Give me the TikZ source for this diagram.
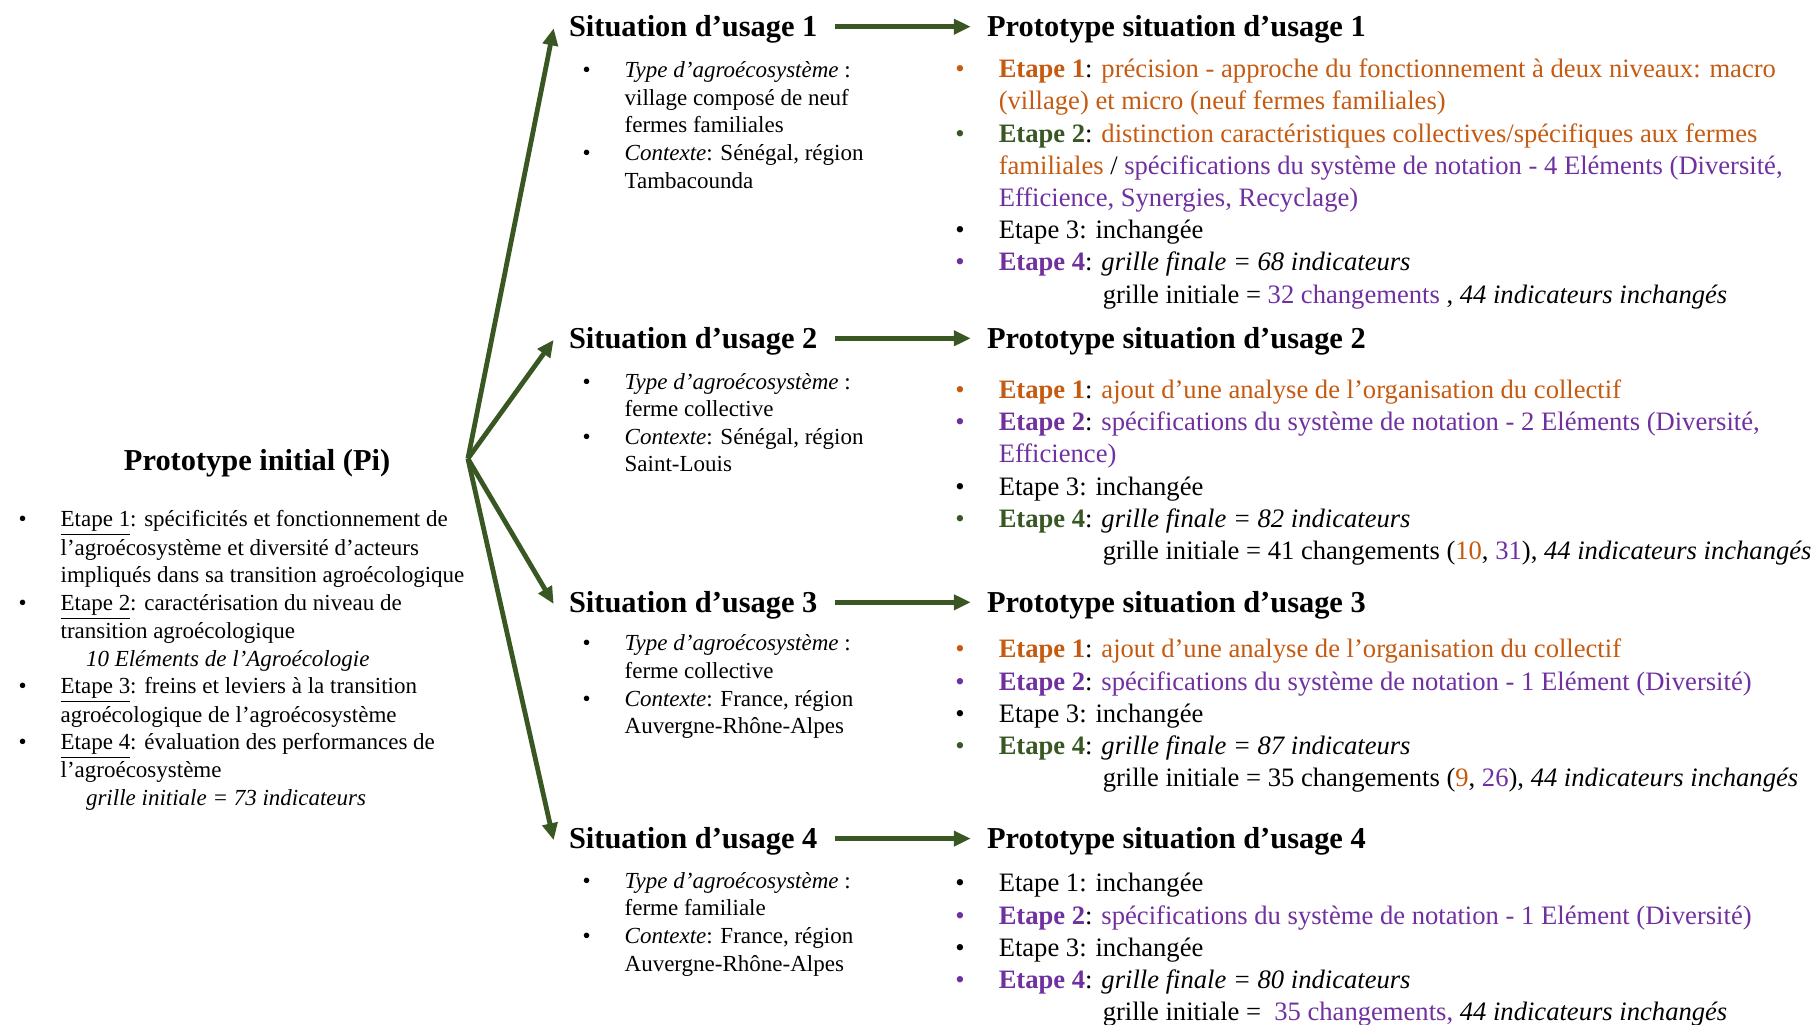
\documentclass[tikz,border=0pt]{standalone}
\usepackage{fontspec}
\setmainfont{Liberation Serif}
\usetikzlibrary{arrows.meta}

\definecolor{notegreen}{RGB}{56,87,35}
\definecolor{noteorange}{RGB}{197,90,17}
\definecolor{notepurple}{RGB}{112,48,160}

% bullet left of the line, coloured text pieces
\newcommand{\bul}[1][black]{\makebox[0pt][r]{\textcolor{#1}{\textbullet}\hspace{17pt}}}
\newcommand{\etape}[2]{\textcolor{#1}{\textbf{Etape #2}}}
\newcommand{\orng}[1]{\textcolor{noteorange}{#1}}
\newcommand{\purp}[1]{\textcolor{notepurple}{#1}}

\begin{document}
\begin{tikzpicture}[x=0.579pt, y=-0.579pt]

% Define heading, list and arrow style
\tikzstyle{head} = [inner sep=0pt, anchor=base west,
    font=\fontsize{15.2}{18}\selectfont\bfseries]
\tikzstyle{leftlist} = [inner sep=0pt, anchor=base west,
    font=\fontsize{11.5}{13.8}\selectfont]
\tikzstyle{rightlist} = [inner sep=0pt, anchor=base west,
    font=\fontsize{13.3}{16.1}\selectfont]
\tikzstyle{flow} = [draw=notegreen, line width=2.4pt,
    -{Triangle[length=8.5pt, width=7.5pt]}]

\useasboundingbox (0,0) rectangle (1568,885);

% initial prototype
\node[head, anchor=base] (pi) at (222,406) {Prototype initial (Pi)};
\node[leftlist] (pilist) at (52,455) {\begin{tabular}[t]{@{}l@{}}
\bul\underline{Etape 1}: spécificités et fonctionnement de\\
l’agroécosystème et diversité d’acteurs\\
impliqués dans sa transition agroécologique\\
\bul\underline{Etape 2}: caractérisation du niveau de\\
transition agroécologique\\
\hspace{12.7pt}\textit{10 Eléments de l’Agroécologie}\\
\bul\underline{Etape 3}: freins et leviers à la transition\\
agroécologique de l’agroécosystème\\
\bul\underline{Etape 4}: évaluation des performances de\\
l’agroécosystème\\
\hspace{12.7pt}\textit{grille initiale = 73 indicateurs}
\end{tabular}};

\coordinate (fan) at (404,396);

% situations and their prototypes
\foreach \i/\y in {1/31.7, 2/300.7, 3/528.7, 4/732.7} {
    \node[head] (sit\i) at (491,\y) {Situation d’usage \i};
    \node[head] (proto\i) at (852,\y) {Prototype situation d’usage \i};
    \draw[flow] (fan) -- ([xshift=-7.5pt,yshift=0.6pt]sit\i.west);
    \draw[flow] ([xshift=8.5pt,yshift=1.4pt]sit\i.east) -- ([xshift=-8pt,yshift=1.4pt]proto\i.west);
}

\node[leftlist] (sit1list) at (539,67) {\begin{tabular}[t]{@{}l@{}}
\bul\textit{Type d’agroécosystème} :\\
village composé de neuf\\
fermes familiales\\
\bul\textit{Contexte}: Sénégal, région\\
Tambacounda
\end{tabular}};

\node[leftlist] (sit2list) at (539,336) {\begin{tabular}[t]{@{}l@{}}
\bul\textit{Type d’agroécosystème} :\\
ferme collective\\
\bul\textit{Contexte}: Sénégal, région\\
Saint-Louis
\end{tabular}};

\node[leftlist] (sit3list) at (539,562) {\begin{tabular}[t]{@{}l@{}}
\bul\textit{Type d’agroécosystème} :\\
ferme collective\\
\bul\textit{Contexte}: France, région\\
Auvergne-Rhône-Alpes
\end{tabular}};

\node[leftlist] (sit4list) at (539,767) {\begin{tabular}[t]{@{}l@{}}
\bul\textit{Type d’agroécosystème} :\\
ferme familiale\\
\bul\textit{Contexte}: France, région\\
Auvergne-Rhône-Alpes
\end{tabular}};

\node[rightlist] (proto1list) at (862,67) {\begin{tabular}[t]{@{}l@{}}
\bul[noteorange]\etape{noteorange}{1}: \orng{précision - approche du fonctionnement à deux niveaux: macro}\\
\orng{(village) et micro (neuf fermes familiales)}\\
\bul[notegreen]\etape{notegreen}{2}: \orng{distinction caractéristiques collectives/spécifiques aux fermes}\\
\orng{familiales} / \purp{spécifications du système de notation - 4 Eléments (Diversité,}\\
\purp{Efficience, Synergies, Recyclage)}\\
\bul Etape 3: inchangée\\
\bul[notepurple]\etape{notepurple}{4}: \textit{grille finale = 68 indicateurs}\\
\hspace{52pt}grille initiale = \purp{32 changements} , \textit{44 indicateurs inchangés}
\end{tabular}};

\node[rightlist] (proto2list) at (862,344) {\begin{tabular}[t]{@{}l@{}}
\bul[noteorange]\etape{noteorange}{1}: \orng{ajout d’une analyse de l’organisation du collectif}\\
\bul[notepurple]\etape{notepurple}{2}: \purp{spécifications du système de notation - 2 Eléments (Diversité,}\\
\purp{Efficience)}\\
\bul Etape 3: inchangée\\
\bul[notegreen]\etape{notegreen}{4}: \textit{grille finale = 82 indicateurs}\\
\hspace{52pt}grille initiale = 41 changements (\orng{10}, \purp{31}), \textit{44 indicateurs inchangés}
\end{tabular}};

\node[rightlist] (proto3list) at (862,568) {\begin{tabular}[t]{@{}l@{}}
\bul[noteorange]\etape{noteorange}{1}: \orng{ajout d’une analyse de l’organisation du collectif}\\
\bul[notepurple]\etape{notepurple}{2}: \purp{spécifications du système de notation - 1 Elément (Diversité)}\\
\bul Etape 3: inchangée\\
\bul[notegreen]\etape{notegreen}{4}: \textit{grille finale = 87 indicateurs}\\
\hspace{52pt}grille initiale = 35 changements (\orng{9}, \purp{26}), \textit{44 indicateurs inchangés}
\end{tabular}};

\node[rightlist] (proto4list) at (862,770) {\begin{tabular}[t]{@{}l@{}}
\bul Etape 1: inchangée\\
\bul[notepurple]\etape{notepurple}{2}: \purp{spécifications du système de notation - 1 Elément (Diversité)}\\
\bul Etape 3: inchangée\\
\bul[notepurple]\etape{notepurple}{4}: \textit{grille finale = 80 indicateurs}\\
\hspace{52pt}grille initiale = \ \purp{35 changements,} \textit{44 indicateurs inchangés}
\end{tabular}};
\end{tikzpicture}
\end{document}
